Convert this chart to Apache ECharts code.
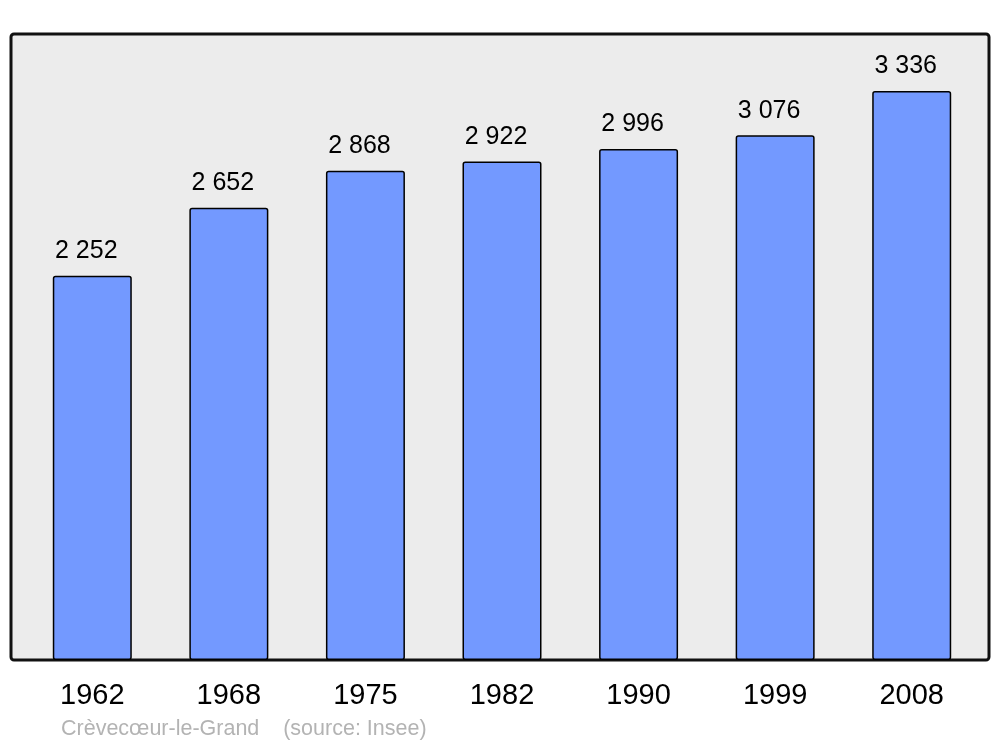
<!DOCTYPE html>
<html><head><meta charset="utf-8">
<script src="https://cdn.jsdelivr.net/npm/echarts@6/dist/echarts.min.js"></script>
<style>html,body{margin:0;padding:0;background:#fff}#c{width:1000px;height:747px}</style>
</head><body><div id="c"></div>
<script>
const years = ['1962','1968','1975','1982','1990','1999','2008'];
const population = [2252, 2652, 2868, 2922, 2996, 3076, 3336];
const sourceText = 'Crèvecœur-le-Grand    (source: Insee)';

const fmt = v => String(v).replace(/\B(?=(\d{3})+(?!\d))/g, ' ');
const chart = echarts.init(document.getElementById('c'), null, {renderer:'canvas'});
chart.setOption({
  backgroundColor: '#ffffff',
  animation: false,
  textStyle: {fontFamily: 'Liberation Sans, Arial, sans-serif'},
  graphic: [
    {type:'rect', z:-10, shape:{x:11, y:34, width:978, height:626, r:3},
     style:{fill:'#ececec', stroke:'#111', lineWidth:3}},
    {type:'text', left:61, top:718, style:{text:sourceText, fill:'#b3b3b3', fontSize:21.5, fontFamily:'Liberation Sans, Arial, sans-serif'}}
  ],
  grid: {left:24, right:20, top:34, bottom:87},
  xAxis: {type:'category', data:years, axisLine:{show:false}, axisTick:{show:false},
    axisLabel:{fontSize:29, color:'#000', margin:21}},
  yAxis: {type:'value', min:0, max:3670, show:false, splitLine:{show:false}},
  series: [{
    type:'bar', data:population, barWidth:79,
    itemStyle:{color:'#7399ff', borderColor:'#000', borderWidth:1.5, borderRadius:2},
    label:{show:true, position:'top', distance:12, offset:[-6,0], fontSize:25, color:'#000', formatter:p=>fmt(p.value)}
  }]
});
</script></body></html>
